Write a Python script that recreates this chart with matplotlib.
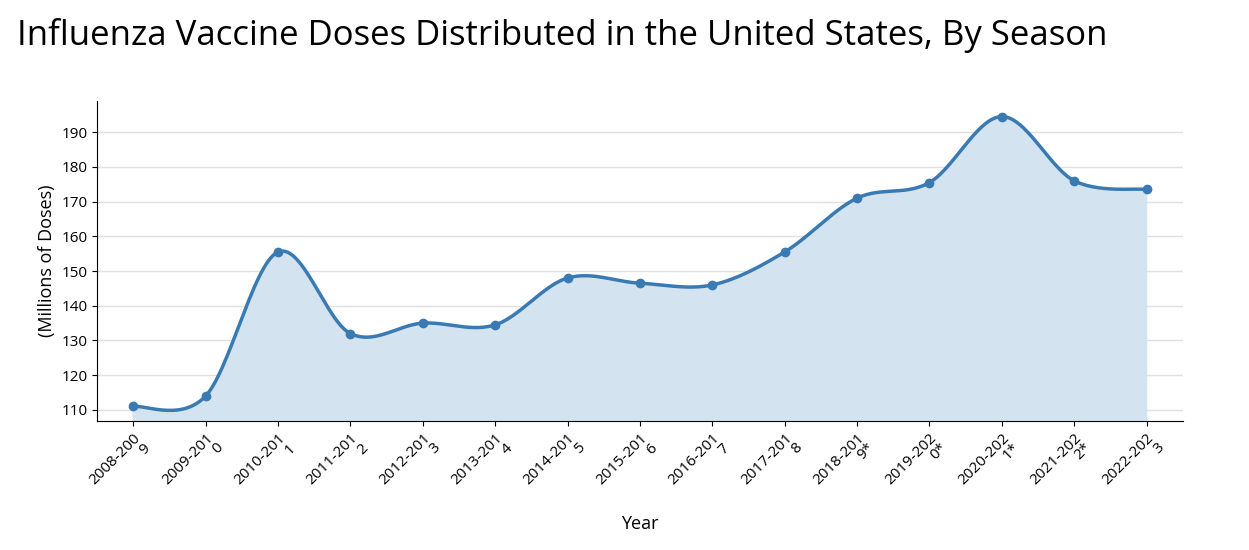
import numpy as np
import matplotlib
matplotlib.use("Agg")
import matplotlib.pyplot as plt

plt.rcParams['font.family'] = ['Open Sans', 'DejaVu Sans']

seasons = ["2008-2009", "2009-2010", "2010-2011", "2011-2012", "2012-2013",
           "2013-2014", "2014-2015", "2015-2016", "2016-2017", "2017-2018",
           "2018-2019*", "2019-2020*", "2020-2021*", "2021-2022*", "2022-2023"]
doses = [111, 114, 155.5, 132, 135, 134.5, 148, 146.5, 146, 155.5,
         171, 175.5, 194.5, 176, 173.5]

def catmull_rom(x, y, n=30):
    # smooth curve through the points, like d3's curveCatmullRom
    x = np.asarray(x, float); y = np.asarray(y, float)
    px = np.concatenate([[x[0]], x, [x[-1]]])
    py = np.concatenate([[y[0]], y, [y[-1]]])
    xs, ys = [], []
    for i in range(1, len(px) - 2):
        t = np.linspace(0, 1, n, endpoint=False)
        for p, out in ((px, xs), (py, ys)):
            p0, p1, p2, p3 = p[i-1], p[i], p[i+1], p[i+2]
            out.extend(0.5 * (2*p1 + (-p0 + p2)*t + (2*p0 - 5*p1 + 4*p2 - p3)*t**2
                              + (-p0 + 3*p1 - 3*p2 + p3)*t**3))
    xs.append(x[-1]); ys.append(y[-1])
    return np.array(xs), np.array(ys)

x = np.arange(len(seasons))
sx, sy = catmull_rom(x, doses)

fig = plt.figure(figsize=(12.49, 5.5), dpi=100)
ax = fig.add_axes([0.0777, 0.2345, 0.8693, 0.582])
ax.fill_between(sx, sy, 0, color="#d4e3f0", zorder=1)
ax.plot(sx, sy, color="#3a7ab3", lw=2.5, zorder=3)
ax.scatter(x, doses, color="#3a7ab3", s=36, zorder=4)

ax.set_xlim(-0.5, 14.5)
ax.set_ylim(106.8, 199)
ax.set_yticks(range(110, 191, 10))
ax.grid(axis="y", color="#e0e0e0", lw=1, zorder=0)
ax.set_axisbelow(True)
for s in ("top", "right"):
    ax.spines[s].set_visible(False)

labels = [s[:8] + "\n" + s[8:] for s in seasons]
ax.set_xticks(x)
ax.set_xticklabels(labels, rotation=45, ha="right", rotation_mode="anchor",
                   fontsize=11, linespacing=0.9)
ax.tick_params(axis="y", labelsize=11)
ax.set_ylabel("(Millions of Doses)", fontsize=13)
ax.set_xlabel("Year", fontsize=13, labelpad=12)

fig.text(0.014, 0.935, "Influenza Vaccine Doses Distributed in the United States, By Season",
         fontsize=25, va="center", ha="left")

fig.savefig("out.png", dpi=100)
